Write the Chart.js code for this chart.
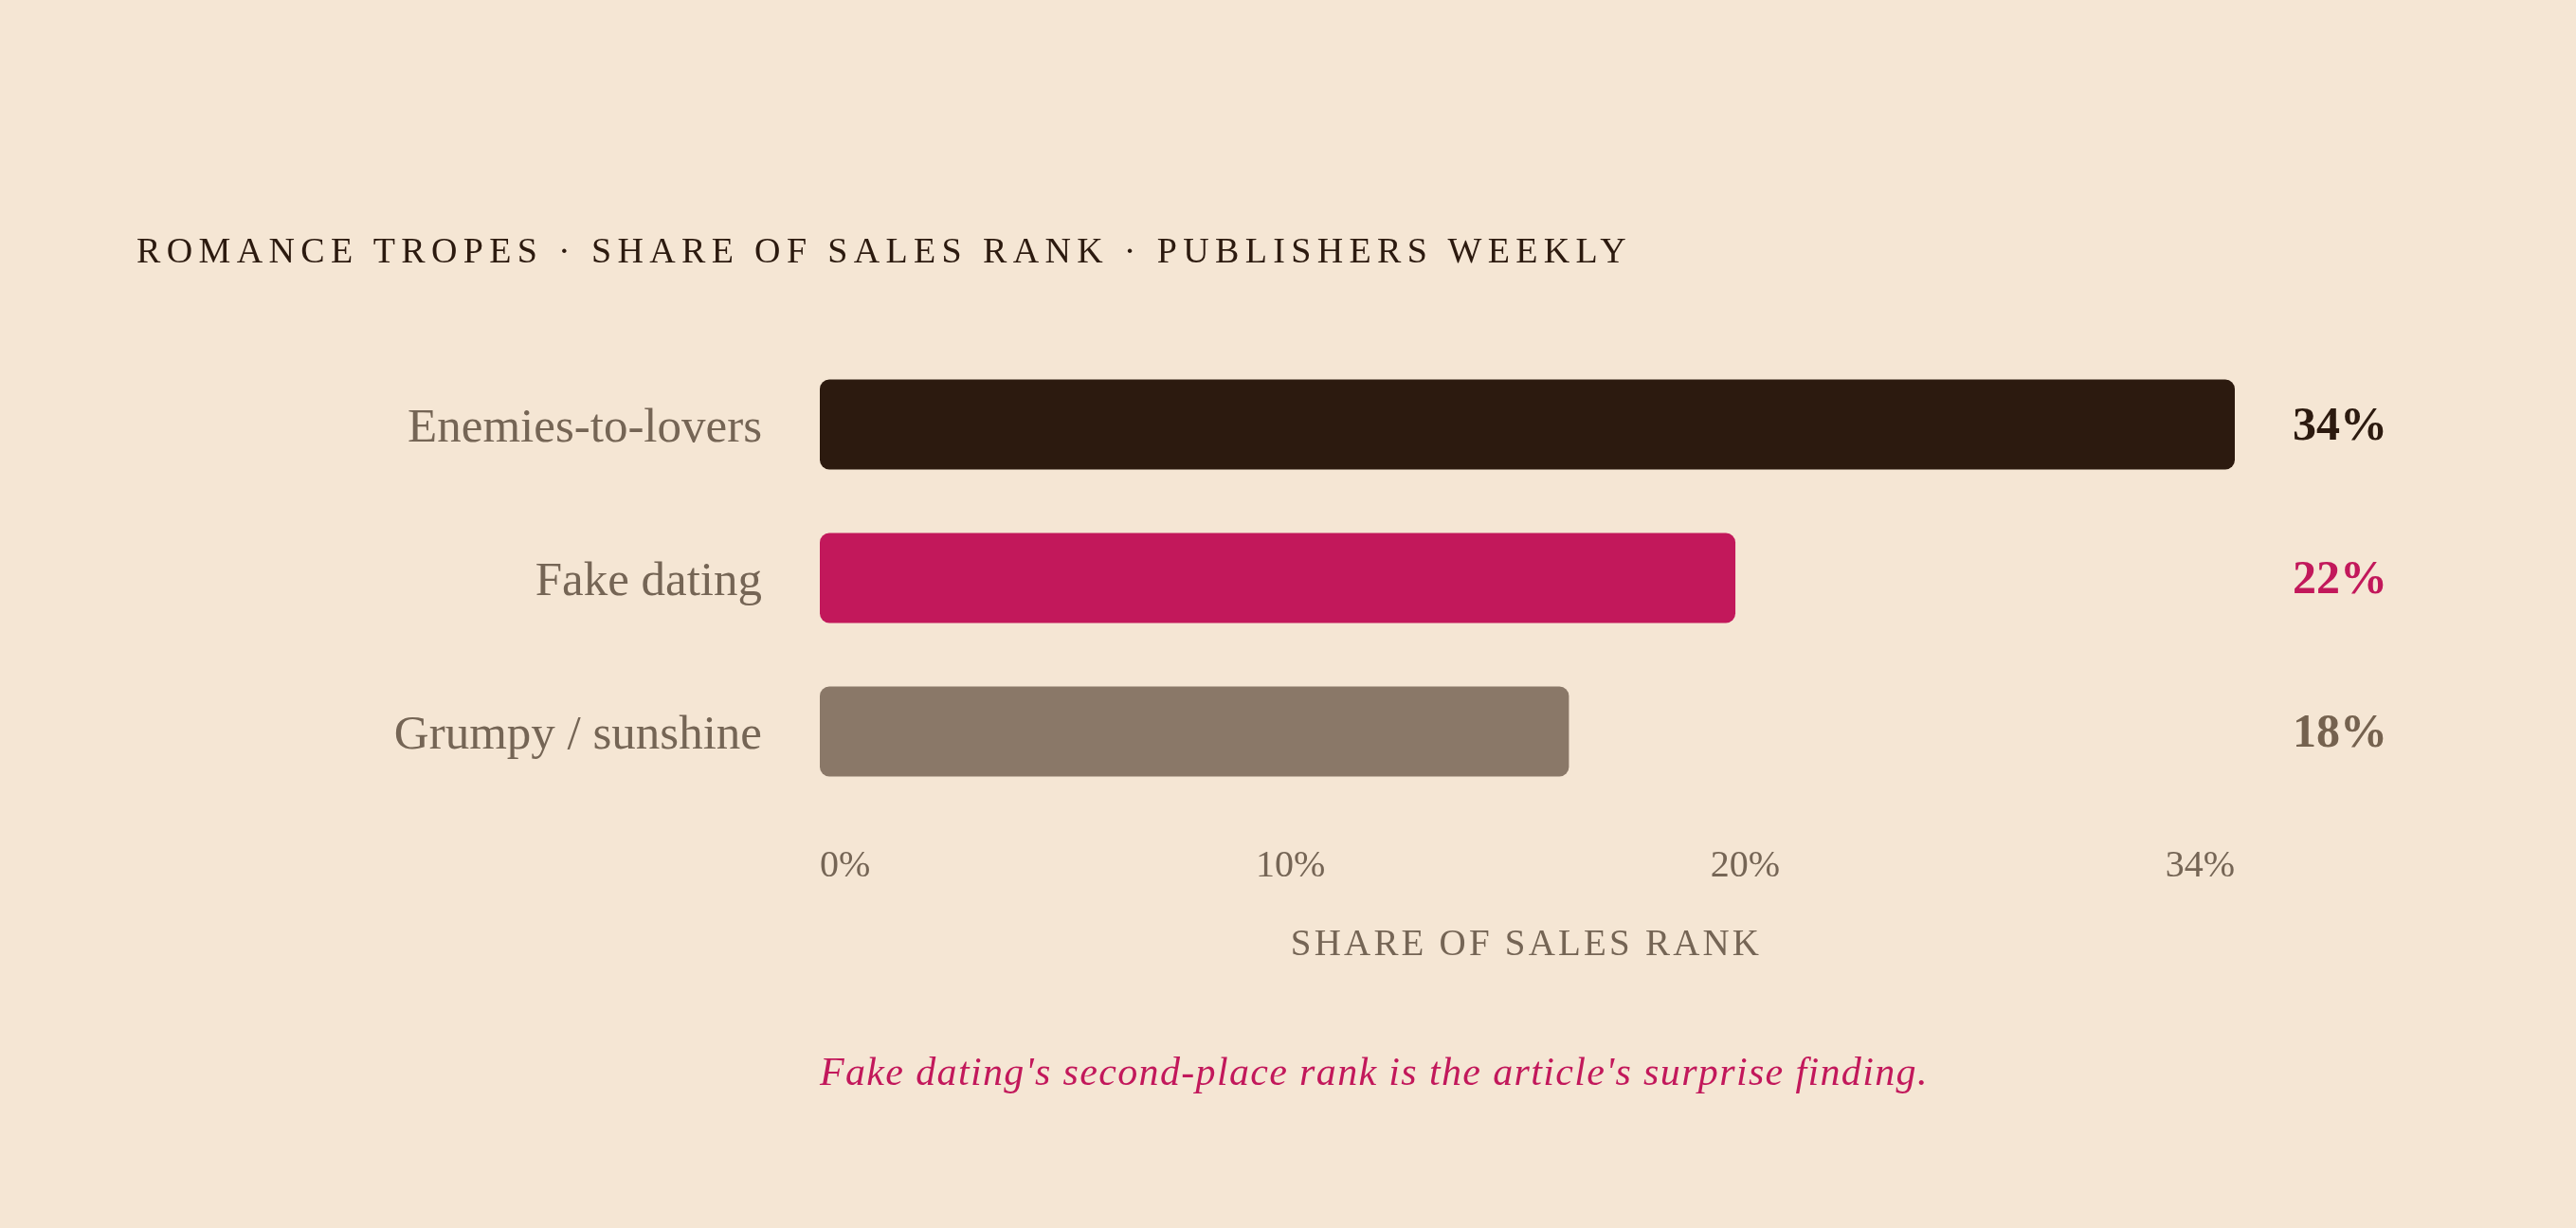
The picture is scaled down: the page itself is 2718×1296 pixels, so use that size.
<!DOCTYPE html>
<html>
<head>
<meta charset="utf-8">
<script src="https://cdn.jsdelivr.net/npm/chart.js@4.4.1/dist/chart.umd.min.js"></script>
<style>
  html, body { margin: 0; padding: 0; background: #f5e6d4; }
  body { width: 2718px; height: 1296px; position: relative; overflow: hidden; }
  #title {
    position: absolute; left: 144px; top: 245px;
    font-family: "Liberation Serif", serif; font-size: 38px; line-height: 1;
    letter-spacing: 6.35px; color: #2c1a0f; white-space: nowrap;
  }
  #caption {
    position: absolute; left: 865px; top: 1110px;
    font-family: "Liberation Serif", serif; font-style: italic; font-size: 42px; line-height: 1;
    letter-spacing: 1.35px; color: #c2185b; white-space: nowrap;
  }
  #wrap { position: absolute; left: 0; top: 0; width: 2718px; height: 1296px; }
</style>
</head>
<body>
<div id="wrap"><canvas id="c"></canvas></div>
<div id="title">ROMANCE TROPES · SHARE OF SALES RANK · PUBLISHERS WEEKLY</div>
<div id="caption">Fake dating's second-place rank is the article's surprise finding.</div>
<script>
const categories = ["Enemies-to-lovers", "Fake dating", "Grumpy / sunshine"];
const shares = [34, 22, 18];
const valueLabels = ["34%", "22%", "18%"];
const tickLabels = ["0%", "10%", "20%", "34%"];
const axisTitle = "SHARE OF SALES RANK";
const barColors = ["#2c1a0f", "#c2185b", "#8a7868"];
const valueColors = ["#2c1a0f", "#c2185b", "#75624f"];
const axisMax = 34;

const mutedInk = "#756555";
const tickFont = "40px 'Liberation Serif', serif";

const valueLabelPlugin = {
  id: "valueLabels",
  afterDatasetsDraw(chart) {
    const ctx = chart.ctx;
    const meta = chart.getDatasetMeta(0);
    ctx.save();
    ctx.font = "bold 50px 'Liberation Serif', serif";
    ctx.textAlign = "left";
    ctx.textBaseline = "middle";
    meta.data.forEach((bar, i) => {
      ctx.fillStyle = valueColors[i];
      ctx.fillText(valueLabels[i], chart.chartArea.right + 61, bar.y + 3);
    });
    ctx.restore();
  }
};

const axisTitlePlugin = {
  id: "axisTitle",
  afterDraw(chart) {
    const ctx = chart.ctx;
    const area = chart.chartArea;
    ctx.save();
    ctx.font = "39px 'Liberation Serif', serif";
    ctx.letterSpacing = "3.2px";
    ctx.fillStyle = mutedInk;
    ctx.textAlign = "center";
    ctx.textBaseline = "alphabetic";
    ctx.fillText(axisTitle, (area.left + area.right) / 2 - 1, area.bottom + 155);
    ctx.restore();
  }
};

// tick labels spread with equal gaps between them across the plot width
function spreadTicks(scale) {
  const ctx = scale.ctx;
  ctx.save();
  ctx.font = tickFont;
  const widths = tickLabels.map(t => ctx.measureText(t).width);
  ctx.restore();
  const W = scale.width;
  const total = widths.reduce((a, b) => a + b, 0);
  const gap = (W - total) / (tickLabels.length - 1);
  let x = 0;
  scale.ticks = tickLabels.map((t, i) => {
    const c = x + widths[i] / 2;
    x += widths[i] + gap;
    return { value: c / W * axisMax, label: t };
  });
}

new Chart(document.getElementById("c"), {
  type: "bar",
  data: {
    labels: categories,
    datasets: [{
      data: shares,
      backgroundColor: barColors,
      borderWidth: 0,
      borderRadius: 10,
      borderSkipped: false,
      barPercentage: 0.586,
      categoryPercentage: 1
    }]
  },
  options: {
    indexAxis: "y",
    responsive: true,
    maintainAspectRatio: false,
    animation: false,
    devicePixelRatio: 1,
    layout: { padding: { top: 367, right: 360, left: 0, bottom: 0 } },
    plugins: { legend: { display: false }, tooltip: { enabled: false }, title: { display: false } },
    scales: {
      x: {
        type: "linear",
        min: 0,
        max: axisMax,
        grid: { display: false, drawTicks: false },
        border: { display: false },
        afterBuildTicks(scale) {
          scale.ticks = tickLabels.map((t, i) => ({ value: axisMax * i / (tickLabels.length - 1) }));
        },
        afterFit(scale) { scale.height = 443; },
        afterUpdate(scale) { spreadTicks(scale); },
        ticks: {
          align: "center",
          padding: 37,
          maxRotation: 0,
          autoSkip: false,
          color: mutedInk,
          font: { family: "'Liberation Serif', serif", size: 40 },
          callback: (v, i) => tickLabels[i]
        }
      },
      y: {
        grid: { display: false, drawTicks: false },
        border: { display: false },
        afterFit(scale) { scale.width = 865; },
        ticks: {
          padding: 61,
          labelOffset: 5,
          color: mutedInk,
          font: { family: "'Liberation Serif', serif", size: 51 }
        }
      }
    }
  },
  plugins: [valueLabelPlugin, axisTitlePlugin]
});
</script>
</body>
</html>
